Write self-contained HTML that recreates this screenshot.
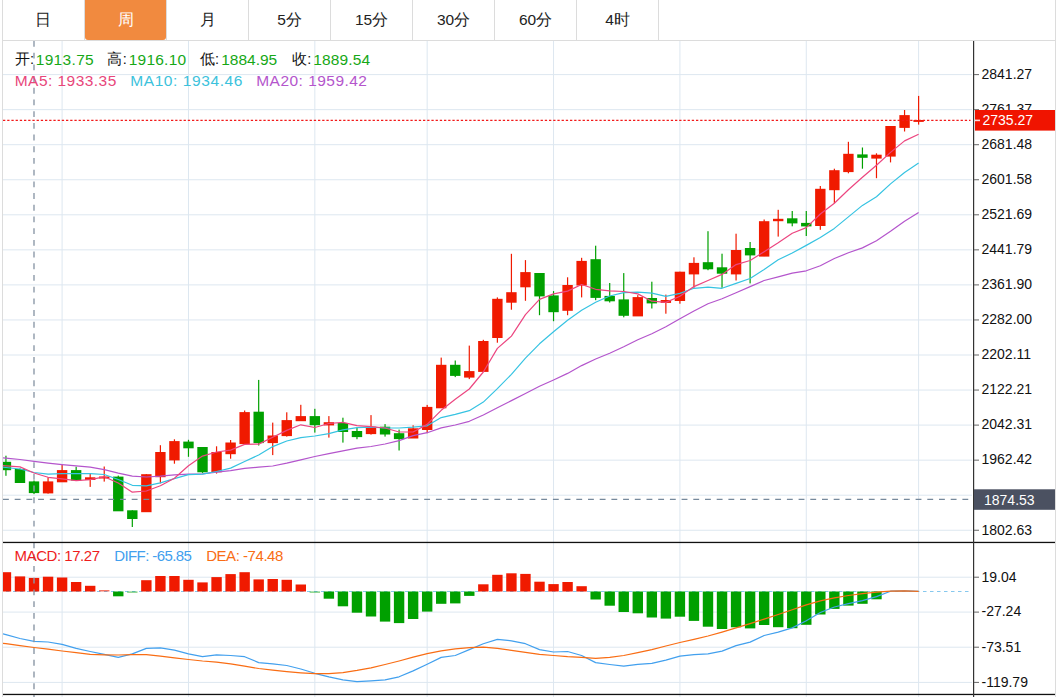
<!DOCTYPE html><html><head><meta charset="utf-8"><title>chart</title><style>
html,body{margin:0;padding:0;background:#fff;}
body{width:1056px;height:697px;overflow:hidden;font-family:"Liberation Sans",sans-serif;}
svg{display:block;font-family:"Liberation Sans",sans-serif;}
</style></head><body>
<svg width="1056" height="697" viewBox="0 0 1056 697">
<defs><clipPath id="cm"><rect x="3" y="41" width="970" height="501"/></clipPath>
<clipPath id="cd"><rect x="3" y="543" width="970" height="154"/></clipPath></defs>
<rect x="2" y="0" width="1" height="697" fill="#dcdcdc"/>
<rect x="1055" y="0" width="1" height="697" fill="#dcdcdc"/>
<rect x="2" y="40" width="1054" height="1" fill="#dcdcdc"/>
<path d="M85,0 H166 V37 Q166,40 163,40 H88 Q85,40 85,37 Z" fill="#f18a3f"/>
<rect x="84" y="0" width="1" height="40" fill="#dcdcdc"/>
<rect x="166" y="0" width="1" height="40" fill="#dcdcdc"/>
<rect x="248" y="0" width="1" height="40" fill="#dcdcdc"/>
<rect x="330" y="0" width="1" height="40" fill="#dcdcdc"/>
<rect x="412" y="0" width="1" height="40" fill="#dcdcdc"/>
<rect x="494" y="0" width="1" height="40" fill="#dcdcdc"/>
<rect x="576" y="0" width="1" height="40" fill="#dcdcdc"/>
<rect x="658" y="0" width="1" height="40" fill="#dcdcdc"/>
<text x="43" y="24.6" text-anchor="middle" font-size="15.5" fill="#222">日</text>
<text x="125.5" y="24.6" text-anchor="middle" font-size="15.5" fill="#fff">周</text>
<text x="207.5" y="24.6" text-anchor="middle" font-size="15.5" fill="#222">月</text>
<text x="289.5" y="24.6" text-anchor="middle" font-size="15.5" fill="#222">5分</text>
<text x="371.5" y="24.6" text-anchor="middle" font-size="15.5" fill="#222">15分</text>
<text x="453.5" y="24.6" text-anchor="middle" font-size="15.5" fill="#222">30分</text>
<text x="535.5" y="24.6" text-anchor="middle" font-size="15.5" fill="#222">60分</text>
<text x="617.5" y="24.6" text-anchor="middle" font-size="15.5" fill="#222">4时</text>
<g fill="none" stroke="#dde7f0" stroke-width="1">
<line x1="3" x2="972" y1="74.6" y2="74.6"/>
<line x1="3" x2="972" y1="109.65" y2="109.65"/>
<line x1="3" x2="972" y1="144.7" y2="144.7"/>
<line x1="3" x2="972" y1="179.75" y2="179.75"/>
<line x1="3" x2="972" y1="214.8" y2="214.8"/>
<line x1="3" x2="972" y1="249.85" y2="249.85"/>
<line x1="3" x2="972" y1="284.9" y2="284.9"/>
<line x1="3" x2="972" y1="319.95" y2="319.95"/>
<line x1="3" x2="972" y1="355" y2="355"/>
<line x1="3" x2="972" y1="390.05" y2="390.05"/>
<line x1="3" x2="972" y1="425.1" y2="425.1"/>
<line x1="3" x2="972" y1="460.15" y2="460.15"/>
<line x1="3" x2="972" y1="495.2" y2="495.2"/>
<line x1="3" x2="972" y1="530.25" y2="530.25"/>
<line x1="3" x2="972" y1="577.2" y2="577.2"/>
<line x1="3" x2="972" y1="612.1" y2="612.1"/>
<line x1="3" x2="972" y1="647.2" y2="647.2"/>
<line x1="3" x2="972" y1="682.4" y2="682.4"/>
<line x1="62.1" x2="62.1" y1="41" y2="697"/>
<line x1="188.47" x2="188.47" y1="41" y2="697"/>
<line x1="314.84" x2="314.84" y1="41" y2="697"/>
<line x1="427.17" x2="427.17" y1="41" y2="697"/>
<line x1="553.54" x2="553.54" y1="41" y2="697"/>
<line x1="679.91" x2="679.91" y1="41" y2="697"/>
<line x1="806.28" x2="806.28" y1="41" y2="697"/>
<line x1="918.61" x2="918.61" y1="41" y2="697"/>
</g>
<g clip-path="url(#cm)">
<rect x="5.34" y="455.7" width="1.2" height="20.1" fill="#00a000"/>
<rect x="0.74" y="461.8" width="10.4" height="8.4" fill="#00a000"/>
<rect x="19.38" y="468.4" width="1.2" height="14.1" fill="#00a000"/>
<rect x="14.78" y="469" width="10.4" height="14" fill="#00a000"/>
<rect x="33.42" y="480.5" width="1.2" height="13.6" fill="#00a000"/>
<rect x="28.82" y="481.4" width="10.4" height="11.7" fill="#00a000"/>
<rect x="47.46" y="477.4" width="1.2" height="16.2" fill="#f01a00"/>
<rect x="42.86" y="481.4" width="10.4" height="12" fill="#f01a00"/>
<rect x="61.5" y="464.7" width="1.2" height="17.1" fill="#f01a00"/>
<rect x="56.9" y="470.1" width="10.4" height="12.2" fill="#f01a00"/>
<rect x="75.55" y="466.7" width="1.2" height="13.3" fill="#00a000"/>
<rect x="70.94" y="470.1" width="10.4" height="10.4" fill="#00a000"/>
<rect x="89.59" y="473.9" width="1.2" height="13" fill="#f01a00"/>
<rect x="84.99" y="477.3" width="10.4" height="2.7" fill="#f01a00"/>
<rect x="103.63" y="466.5" width="1.2" height="15.1" fill="#f01a00"/>
<rect x="99.03" y="476.5" width="10.4" height="2" fill="#f01a00"/>
<rect x="117.67" y="475.6" width="1.2" height="35.2" fill="#00a000"/>
<rect x="113.07" y="476.6" width="10.4" height="34.7" fill="#00a000"/>
<rect x="131.71" y="510.3" width="1.2" height="16.7" fill="#00a000"/>
<rect x="127.11" y="510.3" width="10.4" height="8.7" fill="#00a000"/>
<rect x="145.75" y="474.2" width="1.2" height="37.5" fill="#f01a00"/>
<rect x="141.15" y="474.2" width="10.4" height="38" fill="#f01a00"/>
<rect x="159.79" y="445.2" width="1.2" height="38.2" fill="#f01a00"/>
<rect x="155.19" y="452" width="10.4" height="25.2" fill="#f01a00"/>
<rect x="173.83" y="439.3" width="1.2" height="24.4" fill="#f01a00"/>
<rect x="169.23" y="441.1" width="10.4" height="19.3" fill="#f01a00"/>
<rect x="187.87" y="439.8" width="1.2" height="17" fill="#00a000"/>
<rect x="183.27" y="441.6" width="10.4" height="6.7" fill="#00a000"/>
<rect x="201.91" y="447" width="1.2" height="25.9" fill="#00a000"/>
<rect x="197.31" y="447" width="10.4" height="25.3" fill="#00a000"/>
<rect x="215.96" y="446.3" width="1.2" height="27.3" fill="#f01a00"/>
<rect x="211.36" y="452" width="10.4" height="20.3" fill="#f01a00"/>
<rect x="230" y="440" width="1.2" height="18.7" fill="#f01a00"/>
<rect x="225.4" y="442.5" width="10.4" height="11.7" fill="#f01a00"/>
<rect x="244.04" y="410.5" width="1.2" height="33.1" fill="#f01a00"/>
<rect x="239.44" y="412.1" width="10.4" height="32" fill="#f01a00"/>
<rect x="258.08" y="379.9" width="1.2" height="65.6" fill="#00a000"/>
<rect x="253.48" y="411.7" width="10.4" height="31.4" fill="#00a000"/>
<rect x="272.12" y="422.6" width="1.2" height="32.5" fill="#f01a00"/>
<rect x="267.52" y="435.5" width="10.4" height="7.6" fill="#f01a00"/>
<rect x="286.16" y="412.3" width="1.2" height="24.3" fill="#f01a00"/>
<rect x="281.56" y="420.1" width="10.4" height="16" fill="#f01a00"/>
<rect x="300.2" y="404.8" width="1.2" height="15.9" fill="#f01a00"/>
<rect x="295.6" y="416.1" width="10.4" height="5.1" fill="#f01a00"/>
<rect x="314.24" y="408.8" width="1.2" height="23.8" fill="#00a000"/>
<rect x="309.64" y="416.1" width="10.4" height="9.1" fill="#00a000"/>
<rect x="328.28" y="416.1" width="1.2" height="21.5" fill="#f01a00"/>
<rect x="323.68" y="422.2" width="10.4" height="3.2" fill="#f01a00"/>
<rect x="342.32" y="417.7" width="1.2" height="24.9" fill="#00a000"/>
<rect x="337.72" y="423" width="10.4" height="9" fill="#00a000"/>
<rect x="356.37" y="427.7" width="1.2" height="11.5" fill="#00a000"/>
<rect x="351.77" y="431" width="10.4" height="6.1" fill="#00a000"/>
<rect x="370.41" y="415.1" width="1.2" height="19.5" fill="#f01a00"/>
<rect x="365.81" y="426.7" width="10.4" height="7.4" fill="#f01a00"/>
<rect x="384.45" y="424.1" width="1.2" height="12.5" fill="#00a000"/>
<rect x="379.85" y="426.7" width="10.4" height="7.8" fill="#00a000"/>
<rect x="398.49" y="429.6" width="1.2" height="20.9" fill="#00a000"/>
<rect x="393.89" y="433.2" width="10.4" height="5.9" fill="#00a000"/>
<rect x="412.53" y="425.3" width="1.2" height="12.7" fill="#f01a00"/>
<rect x="407.93" y="428.3" width="10.4" height="10.2" fill="#f01a00"/>
<rect x="426.57" y="404.9" width="1.2" height="28.3" fill="#f01a00"/>
<rect x="421.97" y="406.9" width="10.4" height="23.1" fill="#f01a00"/>
<rect x="440.61" y="357.6" width="1.2" height="50.2" fill="#f01a00"/>
<rect x="436.01" y="364.8" width="10.4" height="43.5" fill="#f01a00"/>
<rect x="454.65" y="360.5" width="1.2" height="16.6" fill="#00a000"/>
<rect x="450.05" y="364.8" width="10.4" height="11.1" fill="#00a000"/>
<rect x="468.69" y="345.6" width="1.2" height="33.5" fill="#f01a00"/>
<rect x="464.09" y="371.1" width="10.4" height="6.5" fill="#f01a00"/>
<rect x="482.73" y="339.8" width="1.2" height="31.6" fill="#f01a00"/>
<rect x="478.13" y="341" width="10.4" height="30.9" fill="#f01a00"/>
<rect x="496.77" y="297.4" width="1.2" height="45.3" fill="#f01a00"/>
<rect x="492.18" y="298.8" width="10.4" height="39.2" fill="#f01a00"/>
<rect x="510.82" y="253.8" width="1.2" height="55.9" fill="#f01a00"/>
<rect x="506.22" y="292.2" width="10.4" height="10.5" fill="#f01a00"/>
<rect x="524.86" y="260.1" width="1.2" height="40.7" fill="#f01a00"/>
<rect x="520.26" y="272.1" width="10.4" height="15.2" fill="#f01a00"/>
<rect x="538.9" y="273" width="1.2" height="42.2" fill="#00a000"/>
<rect x="534.3" y="273" width="10.4" height="23.4" fill="#00a000"/>
<rect x="552.94" y="291.1" width="1.2" height="30.1" fill="#00a000"/>
<rect x="548.34" y="295.4" width="10.4" height="16.8" fill="#00a000"/>
<rect x="566.98" y="277.3" width="1.2" height="37.9" fill="#f01a00"/>
<rect x="562.38" y="285" width="10.4" height="25.8" fill="#f01a00"/>
<rect x="581.02" y="257.8" width="1.2" height="39.6" fill="#f01a00"/>
<rect x="576.42" y="260.9" width="10.4" height="24.6" fill="#f01a00"/>
<rect x="595.06" y="245.7" width="1.2" height="54.5" fill="#00a000"/>
<rect x="590.46" y="259.2" width="10.4" height="38.7" fill="#00a000"/>
<rect x="609.1" y="283" width="1.2" height="19.5" fill="#00a000"/>
<rect x="604.5" y="295.9" width="10.4" height="5.4" fill="#00a000"/>
<rect x="623.14" y="273.1" width="1.2" height="44.2" fill="#00a000"/>
<rect x="618.54" y="299.4" width="10.4" height="16.4" fill="#00a000"/>
<rect x="637.19" y="295.1" width="1.2" height="20.8" fill="#f01a00"/>
<rect x="632.59" y="297.1" width="10.4" height="19.3" fill="#f01a00"/>
<rect x="651.23" y="281.7" width="1.2" height="26.8" fill="#00a000"/>
<rect x="646.63" y="298" width="10.4" height="5.4" fill="#00a000"/>
<rect x="665.27" y="294.6" width="1.2" height="19.1" fill="#f01a00"/>
<rect x="660.67" y="300" width="10.4" height="2.9" fill="#f01a00"/>
<rect x="679.31" y="271.7" width="1.2" height="32" fill="#f01a00"/>
<rect x="674.71" y="271.7" width="10.4" height="29.3" fill="#f01a00"/>
<rect x="693.35" y="257.3" width="1.2" height="30.5" fill="#f01a00"/>
<rect x="688.75" y="262.9" width="10.4" height="11.5" fill="#f01a00"/>
<rect x="707.39" y="231.2" width="1.2" height="39" fill="#00a000"/>
<rect x="702.79" y="262.2" width="10.4" height="7.1" fill="#00a000"/>
<rect x="721.43" y="253.7" width="1.2" height="34.1" fill="#00a000"/>
<rect x="716.83" y="267.3" width="10.4" height="6.4" fill="#00a000"/>
<rect x="735.47" y="233.7" width="1.2" height="46.8" fill="#f01a00"/>
<rect x="730.87" y="250" width="10.4" height="24.4" fill="#f01a00"/>
<rect x="749.51" y="242" width="1.2" height="41.4" fill="#00a000"/>
<rect x="744.91" y="248" width="10.4" height="7.4" fill="#00a000"/>
<rect x="763.55" y="219.5" width="1.2" height="36.6" fill="#f01a00"/>
<rect x="758.95" y="221.2" width="10.4" height="35.4" fill="#f01a00"/>
<rect x="777.6" y="209.8" width="1.2" height="26.8" fill="#f01a00"/>
<rect x="773" y="218.8" width="10.4" height="2.4" fill="#f01a00"/>
<rect x="791.64" y="211" width="1.2" height="15.3" fill="#00a000"/>
<rect x="787.04" y="218.3" width="10.4" height="5.1" fill="#00a000"/>
<rect x="805.68" y="211" width="1.2" height="25" fill="#00a000"/>
<rect x="801.08" y="222.9" width="10.4" height="3.5" fill="#00a000"/>
<rect x="819.72" y="186" width="1.2" height="43.8" fill="#f01a00"/>
<rect x="815.12" y="188.8" width="10.4" height="37.2" fill="#f01a00"/>
<rect x="833.76" y="168.7" width="1.2" height="34.5" fill="#f01a00"/>
<rect x="829.16" y="170.2" width="10.4" height="20" fill="#f01a00"/>
<rect x="847.8" y="141.8" width="1.2" height="31.5" fill="#f01a00"/>
<rect x="843.2" y="153.8" width="10.4" height="18.3" fill="#f01a00"/>
<rect x="861.84" y="147.5" width="1.2" height="21.2" fill="#00a000"/>
<rect x="857.24" y="154.4" width="10.4" height="3.4" fill="#00a000"/>
<rect x="875.88" y="153.3" width="1.2" height="24.9" fill="#f01a00"/>
<rect x="871.28" y="154.7" width="10.4" height="3.9" fill="#f01a00"/>
<rect x="889.92" y="126" width="1.2" height="36.4" fill="#f01a00"/>
<rect x="885.32" y="126" width="10.4" height="30.6" fill="#f01a00"/>
<rect x="903.96" y="110" width="1.2" height="21.5" fill="#f01a00"/>
<rect x="899.36" y="115.1" width="10.4" height="12.8" fill="#f01a00"/>
<rect x="918.01" y="95.9" width="1.2" height="28.7" fill="#f01a00"/>
<rect x="913.41" y="120" width="10.4" height="1.9" fill="#f01a00"/>
<polyline points="-10,456.72 5.94,458.2 19.98,459.5 34.02,461.4 48.06,463.2 62.1,464.7 76.14,465.9 90.19,467.2 104.23,469.6 118.27,473.1 132.31,476.2 146.35,477 160.39,476.2 174.43,474.9 188.47,474.2 202.51,473.8 216.56,472.1 230.6,470.6 244.64,468.4 258.68,467.2 272.72,466 286.76,463.2 300.8,459.8 314.84,456.5 328.88,453.6 342.92,450.8 356.97,448.1 371.01,446.5 385.05,444 399.09,440.6 413.13,435.6 427.17,432.7 441.21,427.9 455.25,425 469.29,421.3 483.33,415 497.38,407.8 511.42,400.6 525.46,393.5 539.5,386.3 553.54,380 567.58,373.4 581.62,365.6 595.66,359 609.7,353.3 623.74,346.8 637.79,339.8 651.83,333.7 665.87,326.8 679.91,318.8 693.95,311 707.99,303.7 722.03,298.8 736.07,292.7 750.11,286.6 764.15,280.5 778.2,276.8 792.24,273.2 806.28,270.8 820.32,265.7 834.36,258.5 848.4,252.8 862.44,247.9 876.48,240.7 890.52,231.3 904.56,221.2 918.61,212.6" fill="none" stroke="#b455cc" stroke-width="1.2" stroke-linejoin="round"/>
<polyline points="-10,465.8 5.94,467.5 19.98,469 34.02,472.5 48.06,474.2 62.1,473.6 76.14,473.6 90.19,473.6 104.23,474.5 118.27,479.5 132.31,485.3 146.35,485.8 160.39,482.9 174.43,478.6 188.47,474.6 202.51,474.1 216.56,471.5 230.6,468.1 244.64,461.5 258.68,455 272.72,446.6 286.76,441 300.8,437.6 314.84,436 328.88,433.6 342.92,429.8 356.97,427.7 371.01,427.1 385.05,428 399.09,428 413.13,427.1 427.17,425.8 441.21,417.6 455.25,414.4 469.29,410.7 483.33,402.1 497.38,388.6 511.42,374.3 525.46,358.2 539.5,343.8 553.54,331.8 567.58,320.3 581.62,310.3 595.66,302.3 609.7,296 623.74,292.7 637.79,292.2 651.83,293.2 665.87,296.3 679.91,293.4 693.95,288.3 707.99,287.1 722.03,288.3 736.07,283.4 750.11,278.5 764.15,269.5 778.2,259.8 792.24,253 806.28,245.4 820.32,237.4 834.36,228.4 848.4,216.9 862.44,205.4 876.48,196.8 890.52,183.9 904.56,172.5 918.61,163" fill="none" stroke="#36c3e2" stroke-width="1.2" stroke-linejoin="round"/>
<polyline points="-10,464.76 5.94,465.9 19.98,466.9 34.02,473 48.06,477.3 62.1,478.9 76.14,480.7 90.19,479.7 104.23,476.8 118.27,483 132.31,492.2 146.35,491 160.39,485.7 174.43,478.3 188.47,465.7 202.51,456.1 216.56,452 230.6,450.1 244.64,444.4 258.68,444.1 272.72,437.2 286.76,430.4 300.8,424.8 314.84,427.5 328.88,423.5 342.92,422.3 356.97,425.7 371.01,426.7 385.05,428 399.09,432 413.13,432 427.17,424.4 441.21,410.3 455.25,399.2 469.29,389 483.33,372 497.38,348.4 511.42,336.1 525.46,314.6 539.5,299.4 553.54,293.9 567.58,291.1 581.62,284.5 595.66,289.3 609.7,290.8 623.74,291.5 637.79,293.9 651.83,301.2 665.87,302.4 679.91,296.3 693.95,286.6 707.99,280.5 722.03,274.4 736.07,264.6 750.11,260.5 764.15,251.7 778.2,242.7 792.24,233.2 806.28,227.6 820.32,214 834.36,203.2 848.4,189.7 862.44,177.3 876.48,165.3 890.52,152.4 904.56,140.9 918.61,134.3" fill="none" stroke="#ec4680" stroke-width="1.2" stroke-linejoin="round"/>
<line x1="3" x2="970.5" y1="120.3" y2="120.3" stroke="#f21a1a" stroke-width="1.15" stroke-dasharray="2.3 1.9"/>
<line x1="3" x2="972" y1="499.4" y2="499.4" stroke="#76899c" stroke-width="1.25" stroke-dasharray="5.85 5.85"/>
<line x1="34" x2="34" y1="41" y2="542" stroke="#8d9aa9" stroke-width="1.4" stroke-dasharray="5.85 5.85"/>
</g>
<g clip-path="url(#cd)">
<line x1="3" x2="969" y1="591.5" y2="591.5" stroke="#86c8ee" stroke-width="1.1" stroke-dasharray="3.5 3.5" stroke-dashoffset="4"/>
<rect x="0.74" y="572.2" width="10.4" height="19.3" fill="#f01a00"/>
<rect x="14.78" y="576.4" width="10.4" height="15.1" fill="#f01a00"/>
<rect x="28.82" y="577.9" width="10.4" height="13.6" fill="#f01a00"/>
<rect x="42.86" y="576.7" width="10.4" height="14.8" fill="#f01a00"/>
<rect x="56.9" y="577.5" width="10.4" height="14" fill="#f01a00"/>
<rect x="70.94" y="582" width="10.4" height="9.5" fill="#f01a00"/>
<rect x="84.99" y="585.8" width="10.4" height="5.7" fill="#f01a00"/>
<rect x="99.03" y="590" width="10.4" height="1.5" fill="#f01a00" fill-opacity="0.6"/>
<rect x="113.07" y="591.5" width="10.4" height="4.8" fill="#00a000"/>
<rect x="127.11" y="591.5" width="10.4" height="1.2" fill="#00a000" fill-opacity="0.6"/>
<rect x="141.15" y="580.2" width="10.4" height="11.3" fill="#f01a00"/>
<rect x="155.19" y="576" width="10.4" height="15.5" fill="#f01a00"/>
<rect x="169.23" y="576" width="10.4" height="15.5" fill="#f01a00"/>
<rect x="183.27" y="579.8" width="10.4" height="11.7" fill="#f01a00"/>
<rect x="197.31" y="582.4" width="10.4" height="9.1" fill="#f01a00"/>
<rect x="211.36" y="577.1" width="10.4" height="14.4" fill="#f01a00"/>
<rect x="225.4" y="574.1" width="10.4" height="17.4" fill="#f01a00"/>
<rect x="239.44" y="572.2" width="10.4" height="19.3" fill="#f01a00"/>
<rect x="253.48" y="579.4" width="10.4" height="12.1" fill="#f01a00"/>
<rect x="267.52" y="579" width="10.4" height="12.5" fill="#f01a00"/>
<rect x="281.56" y="579.8" width="10.4" height="11.7" fill="#f01a00"/>
<rect x="295.6" y="584.5" width="10.4" height="7" fill="#f01a00"/>
<rect x="309.64" y="591.5" width="10.4" height="1.2" fill="#00a000" fill-opacity="0.6"/>
<rect x="323.68" y="591.5" width="10.4" height="7.2" fill="#00a000"/>
<rect x="337.72" y="591.5" width="10.4" height="14.8" fill="#00a000"/>
<rect x="351.77" y="591.5" width="10.4" height="21.2" fill="#00a000"/>
<rect x="365.81" y="591.5" width="10.4" height="25" fill="#00a000"/>
<rect x="379.85" y="591.5" width="10.4" height="30.1" fill="#00a000"/>
<rect x="393.89" y="591.5" width="10.4" height="31.6" fill="#00a000"/>
<rect x="407.93" y="591.5" width="10.4" height="27.5" fill="#00a000"/>
<rect x="421.97" y="591.5" width="10.4" height="20.1" fill="#00a000"/>
<rect x="436.01" y="591.5" width="10.4" height="12.3" fill="#00a000"/>
<rect x="450.05" y="591.5" width="10.4" height="11.9" fill="#00a000"/>
<rect x="464.09" y="591.5" width="10.4" height="4.4" fill="#00a000"/>
<rect x="478.13" y="584.3" width="10.4" height="7.2" fill="#f01a00"/>
<rect x="492.18" y="574.8" width="10.4" height="16.7" fill="#f01a00"/>
<rect x="506.22" y="573.3" width="10.4" height="18.2" fill="#f01a00"/>
<rect x="520.26" y="573.9" width="10.4" height="17.6" fill="#f01a00"/>
<rect x="534.3" y="581.7" width="10.4" height="9.8" fill="#f01a00"/>
<rect x="548.34" y="584.1" width="10.4" height="7.4" fill="#f01a00"/>
<rect x="562.38" y="582" width="10.4" height="9.5" fill="#f01a00"/>
<rect x="576.42" y="586.2" width="10.4" height="5.3" fill="#f01a00"/>
<rect x="590.46" y="591.5" width="10.4" height="8" fill="#00a000"/>
<rect x="604.5" y="591.5" width="10.4" height="14.2" fill="#00a000"/>
<rect x="618.54" y="591.5" width="10.4" height="20.5" fill="#00a000"/>
<rect x="632.59" y="591.5" width="10.4" height="21.8" fill="#00a000"/>
<rect x="646.63" y="591.5" width="10.4" height="26" fill="#00a000"/>
<rect x="660.67" y="591.5" width="10.4" height="27.1" fill="#00a000"/>
<rect x="674.71" y="591.5" width="10.4" height="25.2" fill="#00a000"/>
<rect x="688.75" y="591.5" width="10.4" height="29.4" fill="#00a000"/>
<rect x="702.79" y="591.5" width="10.4" height="35.2" fill="#00a000"/>
<rect x="716.83" y="591.5" width="10.4" height="37.5" fill="#00a000"/>
<rect x="730.87" y="591.5" width="10.4" height="35.8" fill="#00a000"/>
<rect x="744.91" y="591.5" width="10.4" height="36.9" fill="#00a000"/>
<rect x="758.95" y="591.5" width="10.4" height="33.5" fill="#00a000"/>
<rect x="773" y="591.5" width="10.4" height="35.7" fill="#00a000"/>
<rect x="787.04" y="591.5" width="10.4" height="36.7" fill="#00a000"/>
<rect x="801.08" y="591.5" width="10.4" height="33.3" fill="#00a000"/>
<rect x="815.12" y="591.5" width="10.4" height="23" fill="#00a000"/>
<rect x="829.16" y="591.5" width="10.4" height="17.4" fill="#00a000"/>
<rect x="843.2" y="591.5" width="10.4" height="14.1" fill="#00a000"/>
<rect x="857.24" y="591.5" width="10.4" height="12.3" fill="#00a000"/>
<rect x="871.28" y="591.5" width="10.4" height="7.8" fill="#00a000"/>
<polyline points="-10,630.39 5.94,634.7 19.98,638.5 34.02,641.3 48.06,642 62.1,644.4 76.14,648.4 90.19,651.5 104.23,654.3 118.27,657.4 132.31,653.9 146.35,648.4 160.39,647.9 174.43,650.1 188.47,653.9 202.51,656.7 216.56,654.8 230.6,655.5 244.64,656.7 258.68,662.6 272.72,663.8 286.76,665.5 300.8,669 314.84,673.3 328.88,676.8 342.92,679.9 356.97,681.6 371.01,680.8 385.05,679.9 399.09,676.8 413.13,670.9 427.17,664.3 441.21,657.4 455.25,655.5 469.29,649.6 483.33,643.7 497.38,639.4 511.42,640.8 525.46,643.7 539.5,649.6 553.54,652 567.58,651.5 581.62,655.5 595.66,662.6 609.7,664.5 623.74,666.2 637.79,664.3 651.83,663.3 665.87,660.2 679.91,656.2 693.95,654.6 707.99,653.9 722.03,651.1 736.07,645.6 750.11,642.1 764.15,635.5 778.2,632.1 792.24,627.9 806.28,620.8 820.32,612.5 834.36,607 848.4,603.7 862.44,600.7 876.48,596.6 890.52,591.2 904.56,590.9 918.61,591.4" fill="none" stroke="#42a0ee" stroke-width="1.2" stroke-linejoin="round"/>
<polyline points="-10,641.54 5.94,643.7 19.98,645.6 34.02,647.5 48.06,649.1 62.1,651 76.14,652.7 90.19,654.3 104.23,654.8 118.27,655 132.31,654.6 146.35,654.6 160.39,656.2 174.43,657.9 188.47,659.5 202.51,661 216.56,662.1 230.6,663.8 244.64,666.2 258.68,668.5 272.72,670.2 286.76,671.6 300.8,672.8 314.84,673.7 328.88,673.7 342.92,672.6 356.97,670.4 371.01,667.8 385.05,664.5 399.09,661 413.13,657.2 427.17,653.6 441.21,650.8 455.25,648.9 469.29,647.6 483.33,647.2 497.38,648.4 511.42,650.3 525.46,652.4 539.5,654.3 553.54,655.5 567.58,656.7 581.62,657.4 595.66,658.4 609.7,657.4 623.74,655.5 637.79,652.7 651.83,649.6 665.87,646 679.91,642.5 693.95,639.3 707.99,636 722.03,632.1 736.07,627.9 750.11,623.6 764.15,619.1 778.2,614.5 792.24,609.8 806.28,604.9 820.32,600.8 834.36,597.9 848.4,595.5 862.44,593.7 876.48,592.1 890.52,591.2 904.56,590.9 918.61,591.4" fill="none" stroke="#f96d14" stroke-width="1.2" stroke-linejoin="round"/>
<line x1="34" x2="34" y1="542.5" y2="697" stroke="#8b97a5" stroke-width="1.4" stroke-dasharray="5.87 5.86"/>
</g>
<rect x="3" y="541.8" width="1052" height="1.3" fill="#111"/>
<rect x="3" y="693.8" width="1052" height="1.3" fill="#111"/>
<rect x="973" y="41" width="1.2" height="656" fill="#333"/>
<rect x="974" y="74.1" width="5" height="1" fill="#666"/>
<text x="981.5" y="78.9" font-size="14" fill="#111">2841.27</text>
<rect x="974" y="109.15" width="5" height="1" fill="#666"/>
<text x="981.5" y="113.95" font-size="14" fill="#111">2761.37</text>
<rect x="974" y="144.2" width="5" height="1" fill="#666"/>
<text x="981.5" y="149" font-size="14" fill="#111">2681.48</text>
<rect x="974" y="179.25" width="5" height="1" fill="#666"/>
<text x="981.5" y="184.05" font-size="14" fill="#111">2601.58</text>
<rect x="974" y="214.3" width="5" height="1" fill="#666"/>
<text x="981.5" y="219.1" font-size="14" fill="#111">2521.69</text>
<rect x="974" y="249.35" width="5" height="1" fill="#666"/>
<text x="981.5" y="254.15" font-size="14" fill="#111">2441.79</text>
<rect x="974" y="284.4" width="5" height="1" fill="#666"/>
<text x="981.5" y="289.2" font-size="14" fill="#111">2361.90</text>
<rect x="974" y="319.45" width="5" height="1" fill="#666"/>
<text x="981.5" y="324.25" font-size="14" fill="#111">2282.00</text>
<rect x="974" y="354.5" width="5" height="1" fill="#666"/>
<text x="981.5" y="359.3" font-size="14" fill="#111">2202.11</text>
<rect x="974" y="389.55" width="5" height="1" fill="#666"/>
<text x="981.5" y="394.35" font-size="14" fill="#111">2122.21</text>
<rect x="974" y="424.6" width="5" height="1" fill="#666"/>
<text x="981.5" y="429.4" font-size="14" fill="#111">2042.31</text>
<rect x="974" y="459.65" width="5" height="1" fill="#666"/>
<text x="981.5" y="464.45" font-size="14" fill="#111">1962.42</text>
<rect x="974" y="494.7" width="5" height="1" fill="#666"/>
<rect x="974" y="529.75" width="5" height="1" fill="#666"/>
<text x="981.5" y="534.55" font-size="14" fill="#111">1802.63</text>
<rect x="974" y="576.7" width="5" height="1" fill="#666"/>
<text x="981.5" y="581.5" font-size="14" fill="#111">19.04</text>
<rect x="974" y="611.6" width="5" height="1" fill="#666"/>
<text x="981.5" y="616.4" font-size="14" fill="#111">-27.24</text>
<rect x="974" y="646.7" width="5" height="1" fill="#666"/>
<text x="981.5" y="651.5" font-size="14" fill="#111">-73.51</text>
<rect x="974" y="681.9" width="5" height="1" fill="#666"/>
<text x="981.5" y="686.7" font-size="14" fill="#111">-119.79</text>
<rect x="975" y="110" width="80" height="20.6" fill="#f01400"/>
<rect x="975" y="119.6" width="5" height="1.6" fill="#fdd"/>
<text x="982.5" y="125.4" font-size="14" fill="#fff">2735.27</text>
<rect x="974" y="489.3" width="81" height="20.5" fill="#4b5161"/>
<text x="984" y="504.8" font-size="14" fill="#fff">1874.53</text>
<text x="14.50" y="64.30" font-size="14.5" fill="#111" textLength="19.63" lengthAdjust="spacing">开:</text>
<text x="35.71" y="65.00" font-size="15.5" fill="#16a816" textLength="58.03" lengthAdjust="spacing">1913.75</text>
<text x="107.34" y="64.30" font-size="14.5" fill="#111" textLength="19.43" lengthAdjust="spacing">高:</text>
<text x="128.71" y="65.00" font-size="15.5" fill="#16a816" textLength="57.43" lengthAdjust="spacing">1916.10</text>
<text x="199.50" y="64.30" font-size="14.5" fill="#111" textLength="19.43" lengthAdjust="spacing">低:</text>
<text x="221.21" y="65.00" font-size="15.5" fill="#16a816" textLength="56.03" lengthAdjust="spacing">1884.95</text>
<text x="291.81" y="64.30" font-size="14.5" fill="#111" textLength="19.43" lengthAdjust="spacing">收:</text>
<text x="313.21" y="65.00" font-size="15.5" fill="#16a816" textLength="56.83" lengthAdjust="spacing">1889.54</text>
<text x="14.74" y="85.70" font-size="15.5" fill="#e8467a" textLength="101.52" lengthAdjust="spacing">MA5: 1933.35</text>
<text x="130.24" y="85.70" font-size="15.5" fill="#3cc2dc" textLength="112.14" lengthAdjust="spacing">MA10: 1934.46</text>
<text x="256.24" y="85.70" font-size="15.5" fill="#b455cc" textLength="110.74" lengthAdjust="spacing">MA20: 1959.42</text>
<text x="14.59" y="560.80" font-size="15" fill="#ee1c1c" textLength="85.45" lengthAdjust="spacing">MACD: 17.27</text>
<text x="114.19" y="560.80" font-size="15" fill="#42a0ee" textLength="77.60" lengthAdjust="spacing">DIFF: -65.85</text>
<text x="206.19" y="560.80" font-size="15" fill="#f96d14" textLength="77.12" lengthAdjust="spacing">DEA: -74.48</text>
</svg></body></html>
